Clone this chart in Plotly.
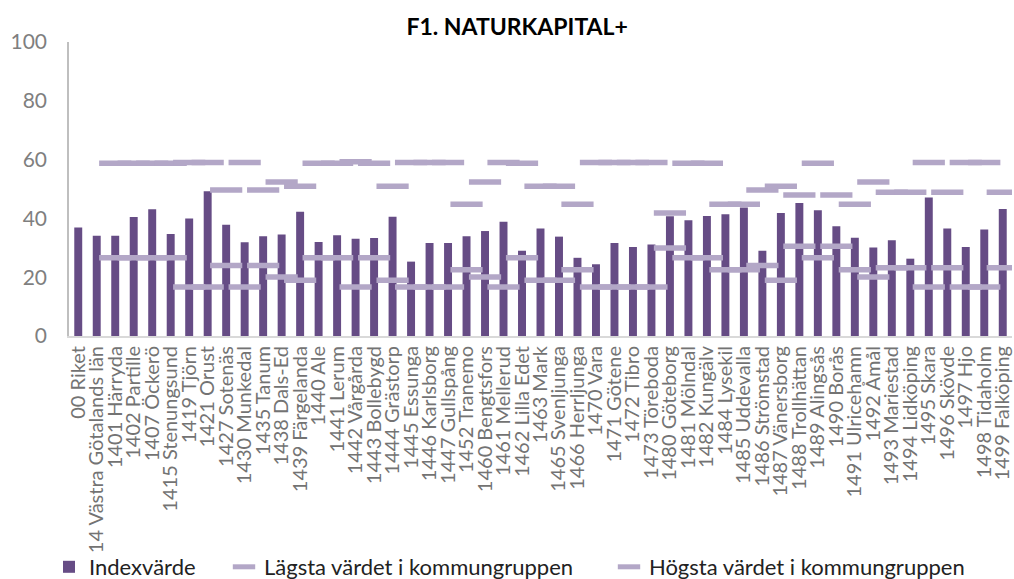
import plotly.graph_objects as go

categories = ["00 Riket","14 Västra Götalands län","1401 Härryda","1402 Partille","1407 Öckerö",
    "1415 Stenungsund","1419 Tjörn","1421 Orust","1427 Sotenäs","1430 Munkedal","1435 Tanum",
    "1438 Dals-Ed","1439 Färgelanda","1440 Ale","1441 Lerum","1442 Vårgårda","1443 Bollebygd",
    "1444 Grästorp","1445 Essunga","1446 Karlsborg","1447 Gullspång","1452 Tranemo",
    "1460 Bengtsfors","1461 Mellerud","1462 Lilla Edet","1463 Mark","1465 Svenljunga",
    "1466 Herrljunga","1470 Vara","1471 Götene","1472 Tibro","1473 Töreboda","1480 Göteborg",
    "1481 Mölndal","1482 Kungälv","1484 Lysekil","1485 Uddevalla","1486 Strömstad",
    "1487 Vänersborg","1488 Trollhättan","1489 Alingsås","1490 Borås","1491 Ulricehamn",
    "1492 Åmål","1493 Mariestad","1494 Lidköping","1495 Skara","1496 Skövde","1497 Hjo",
    "1498 Tidaholm","1499 Falköping"]

index_values = [36.9,34.1,34.1,40.5,43.1,34.7,40.0,49.2,37.8,31.9,33.9,34.5,42.3,32.0,34.3,
    33.1,33.3,40.6,25.3,31.6,31.6,33.9,35.7,38.9,29.0,36.6,33.8,26.6,24.4,31.6,30.3,31.1,40.7,
    39.4,40.8,41.4,43.7,29.0,41.8,45.2,42.8,37.3,33.4,30.1,32.6,26.3,47.1,36.6,30.3,36.2,43.2]

lowest_in_group = [None,None,26.6,26.6,26.6,26.6,16.7,16.7,24.0,16.7,24.0,20.1,19.0,26.6,26.6,
    16.7,26.6,19.0,16.7,16.7,16.7,22.5,20.1,16.7,26.6,19.0,19.0,22.5,16.7,16.7,16.7,16.7,29.9,
    26.6,26.6,22.5,22.5,24.0,19.0,30.5,26.6,30.5,22.5,20.1,23.2,23.2,16.7,23.2,16.7,16.7,23.2]

highest_in_group = [None,None,58.8,58.8,58.8,58.8,59.0,59.0,49.7,59.0,49.7,52.4,50.9,58.8,58.8,
    59.3,58.8,50.9,59.0,59.0,59.0,44.8,52.4,59.0,58.8,50.9,50.9,44.8,59.0,59.0,59.0,59.0,41.8,
    58.8,58.8,44.8,44.8,49.7,50.9,48.0,58.8,48.0,44.8,52.4,48.9,48.9,59.0,48.9,59.0,59.0,48.9]

y_ticks = [0, 20, 40, 60, 80, 100]

BAR = "#664c85"
DASH = "#b3a7c7"
FONT = "Lato"

fig = go.Figure()
fig.add_trace(go.Bar(x=categories, y=index_values, name="Indexvärde",
                     marker=dict(color=BAR, line=dict(width=0)), legend="legend"))
fig.add_trace(go.Scatter(x=categories, y=lowest_in_group, mode="markers",
                         name="Lägsta värdet i kommungruppen",
                         marker=dict(symbol="line-ew", size=23,
                                     line=dict(color=DASH, width=5.5)),
                         legend="legend2"))
fig.add_trace(go.Scatter(x=categories, y=highest_in_group, mode="markers",
                         name="Högsta värdet i kommungruppen",
                         marker=dict(symbol="line-ew", size=23,
                                     line=dict(color=DASH, width=5.5)),
                         legend="legend3"))

leg_common = dict(orientation="h", xref="container", yref="container",
                  yanchor="middle", y=1 - 567 / 579, xanchor="left",
                  font=dict(family=FONT, size=22, color="#222222"),
                  bgcolor="rgba(0,0,0,0)", itemwidth=30)

fig.update_layout(
    width=1014, height=579,
    showlegend=True,
    margin=dict(l=69, r=2, t=42, b=243, autoexpand=False),
    paper_bgcolor="white", plot_bgcolor="white",
    bargap=0.57,
    title=dict(text="<b>F1. NATURKAPITAL+</b>", x=0.51, xanchor="center",
               y=1 - 26.5 / 579, yanchor="middle",
               font=dict(family=FONT, size=23, color="#000000")),
    legend=dict(leg_common, x=49 / 1014),
    legend2=dict(leg_common, x=224 / 1014),
    legend3=dict(leg_common, x=609 / 1014),
    font=dict(family=FONT),
)

fig.update_xaxes(type="category", range=[-0.5, 50.5], tickangle=-90,
                 tickmode="array", tickvals=categories, ticktext=categories,
                 tickfont=dict(family=FONT, size=20, color="#737373"),
                 showline=True, linecolor="#d9d9d9", linewidth=2,
                 showgrid=False, ticks="", zeroline=False, automargin=False)
fig.update_yaxes(range=[0, 100], tickvals=y_ticks,
                 tickfont=dict(family=FONT, size=21, color="#7f7f7f"),
                 showline=True, linecolor="#bfbfbf", linewidth=1.5,
                 showgrid=False, ticks="", zeroline=False, ticklabelstandoff=16,
                 automargin=False)

fig.write_html("out.html", config={"displayModeBar": False},
               post_script="document.body.style.margin='0';")
